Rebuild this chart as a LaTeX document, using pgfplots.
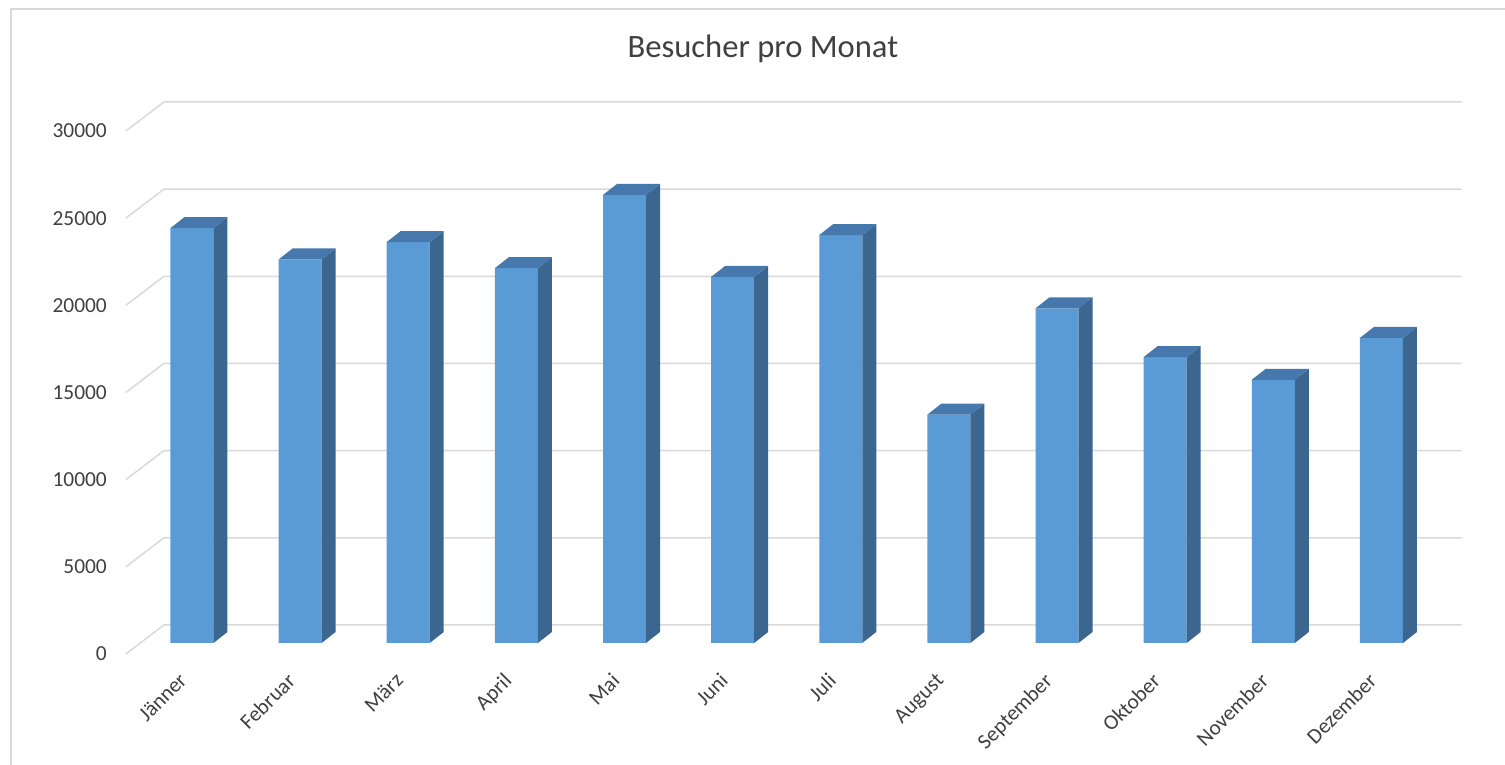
\documentclass[border=0pt]{standalone}
\usepackage{fontspec}
\setmainfont{Carlito}
\usepackage{pgfplots}
\usepackage{pgfplotstable}
\pgfplotsset{compat=1.18}
\definecolor{frontcol}{HTML}{5B9BD5}
\definecolor{topcol}{HTML}{4677AD}
\definecolor{sidecol}{HTML}{3B6690}
\definecolor{gridcol}{HTML}{D9D9D9}
\definecolor{txtcol}{HTML}{404040}

\pgfplotstableread{
x v
0 23800
1 22000
2 23000
3 21500
4 25700
5 21000
6 23400
7 13100
8 19200
9 16400
10 15100
11 17500
}\besucher

\pgfdeclareplotmark{col3d}{%
  \pgfsetfillcolor{sidecol}%
  \pgfpathmoveto{\pgfqpoint{10.75pt}{0pt}}%
  \pgfpathlineto{\pgfqpoint{17.75pt}{5.5pt}}%
  \pgfpathlineto{\pgfpoint{17.75pt}{5.5pt-\barH pt}}%
  \pgfpathlineto{\pgfpoint{10.75pt}{-\barH pt}}%
  \pgfpathclose
  \pgfusepath{fill}%
  \pgfsetfillcolor{topcol}%
  \pgfpathmoveto{\pgfqpoint{-10.75pt}{0pt}}%
  \pgfpathlineto{\pgfqpoint{10.75pt}{0pt}}%
  \pgfpathlineto{\pgfqpoint{17.75pt}{5.5pt}}%
  \pgfpathlineto{\pgfqpoint{-3.75pt}{5.5pt}}%
  \pgfpathclose
  \pgfusepath{fill}%
}

\begin{document}
\begin{tikzpicture}
\draw[gridcol, line width=1pt] (-63.45pt,-61pt) -- (-63.45pt,317pt) -- (683.55pt,317pt);
\begin{axis}[
  set layers,
  at={(0,0)}, anchor=south west,
  scale only axis,
  width=648.8pt, height=261.5pt,
  xmin=-0.5, xmax=11.5, ymin=0, ymax=30000,
  enlargelimits=false,
  clip=false,
  axis line style={draw=none},
  tick style={draw=none},
  major tick length=0pt,
  ytick={0,5000,10000,15000,20000,25000,30000},
  xtick={0,1,2,3,4,5,6,7,8,9,10,11},
  xticklabels={Jänner,Februar,März,April,Mai,Juni,Juli,August,September,Oktober,November,Dezember},
  scaled y ticks=false,
  /pgf/number format/assume math mode=true,
  /pgf/number format/1000 sep={},
  ticklabel style={font=\fontsize{10.7}{12}\selectfont, text=txtcol},
  yticklabel style={anchor=east, xshift=-12pt, yshift=-5.5pt},
  xticklabel style={xshift=-7pt, yshift=-9.5pt, rotate=45, anchor=north east},
]
\begin{pgfonlayer}{axis background}
\pgfplotsinvokeforeach{0,5000,10000,15000,20000,25000,30000}{
  \draw[gridcol, line width=0.75pt]
    ([shift={(-6pt,-5.5pt)}]axis cs:-0.5,#1) --
    ([shift={(13pt,9pt)}]axis cs:-0.5,#1) --
    ([shift={(13pt,9pt)}]axis cs:11.5,#1);
}
\end{pgfonlayer}
\addplot[ybar, bar width=21.5pt, fill=frontcol, draw=none] table[x=x, y=v] {\besucher};
\addplot[scatter, only marks, mark=col3d,
  visualization depends on={rawy*0.0087167 \as \barH},
  scatter/use mapped color={draw=none, fill=none}] table[x=x, y=v] {\besucher};
\end{axis}
\node[anchor=base, text=txtcol, font=\fontsize{16.3}{19}\selectfont] at (312.5pt,292.6pt) {Besucher pro Monat};
\pgfresetboundingbox
\useasboundingbox (-68.95pt,-61pt) rectangle (683.55pt,321.5pt);
\end{tikzpicture}
\end{document}
